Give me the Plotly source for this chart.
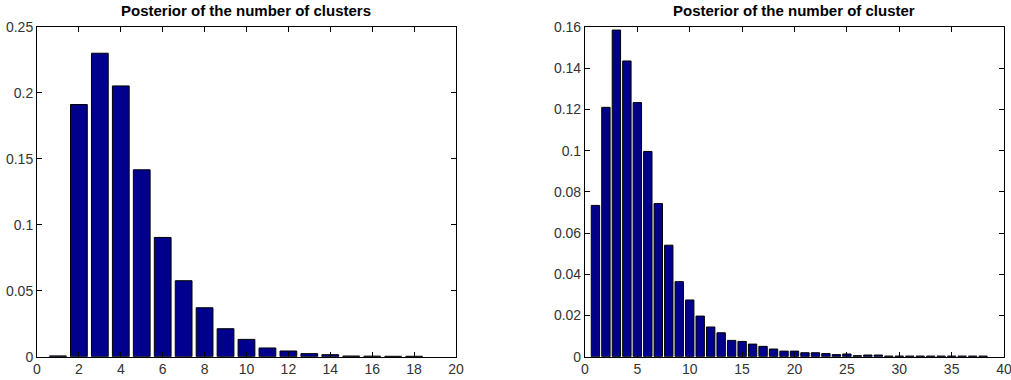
import plotly.graph_objects as go

# Posterior probabilities of the number of clusters (two runs)
k_left = list(range(1, 19))
p_left = [0.0006, 0.1912, 0.2301, 0.2053, 0.1417, 0.0904, 0.0576, 0.0371, 0.0212,
          0.0131, 0.0066, 0.0043, 0.0023, 0.0015, 0.0005, 0.0004, 0.0003, 0.0003]

k_right = list(range(1, 39))
p_right = [0.0734, 0.1210, 0.1585, 0.1435, 0.1233, 0.0996, 0.0743, 0.0541, 0.0364,
           0.0275, 0.0197, 0.0144, 0.0116, 0.0079, 0.0074, 0.0061, 0.0050, 0.0037,
           0.0027, 0.0027, 0.0019, 0.0019, 0.0015, 0.0010, 0.0013, 0.0005, 0.0008,
           0.0008, 0.0003, 0.0003, 0.0003, 0.0003, 0.0003, 0.0003, 0.0003, 0.0003,
           0.0003, 0.0003]

left_title = "Posterior of the number of clusters"
right_title = "Posterior of the number of cluster"

left_yticks = [0, 0.05, 0.1, 0.15, 0.2, 0.25]
left_ylabels = ["0", "0.05", "0.1", "0.15", "0.2", "0.25"]
right_yticks = [0, 0.02, 0.04, 0.06, 0.08, 0.1, 0.12, 0.14, 0.16]
right_ylabels = ["0", "0.02", "0.04", "0.06", "0.08", "0.1", "0.12", "0.14", "0.16"]

BAR = "#00008C"
FONT = "Liberation Sans, Arial, sans-serif"

fig = go.Figure()
fig.add_trace(go.Bar(x=k_left, y=p_left, width=0.8, xaxis="x", yaxis="y",
                     marker=dict(color=BAR, line=dict(color="black", width=1))))
fig.add_trace(go.Bar(x=k_right, y=p_right, width=0.8, xaxis="x2", yaxis="y2",
                     marker=dict(color=BAR, line=dict(color="black", width=1))))

axis_common = dict(showline=True, linecolor="black", linewidth=1, mirror="ticks",
                   ticks="inside", ticklen=5, tickcolor="black", showgrid=False,
                   zeroline=False, automargin=False, ticklabeloverflow="allow",
                   tickfont=dict(family=FONT, size=14, color="#333"))

fig.update_layout(
    width=1011, height=380, margin=dict(l=0, r=0, t=0, b=0),
    paper_bgcolor="white", plot_bgcolor="white", showlegend=False,
    xaxis=dict(domain=[0.0366, 0.4510], range=[0, 20], tickvals=list(range(0, 21, 2)),
               anchor="y", **axis_common),
    yaxis=dict(domain=[0.0614, 0.929], range=[0, 0.25], tickvals=left_yticks,
               ticktext=left_ylabels, anchor="x", **axis_common),
    xaxis2=dict(domain=[0.5786, 0.9931], range=[0, 40], tickvals=list(range(0, 41, 5)),
                anchor="y2", **axis_common),
    yaxis2=dict(domain=[0.0614, 0.929], range=[0, 0.16], tickvals=right_yticks,
                ticktext=right_ylabels, anchor="x2", **axis_common),
    annotations=[
        dict(text=f"<b>{left_title}</b>", x=(0.0366 + 0.4510) / 2, y=1 - 11 / 380,
             xref="paper", yref="paper", showarrow=False, xanchor="center",
             yanchor="middle", font=dict(family=FONT, size=15, color="black")),
        dict(text=f"<b>{right_title}</b>", x=(0.5786 + 0.9931) / 2, y=1 - 11 / 380,
             xref="paper", yref="paper", showarrow=False, xanchor="center",
             yanchor="middle", font=dict(family=FONT, size=15, color="black")),
    ],
)

fig.write_html("out.html")
